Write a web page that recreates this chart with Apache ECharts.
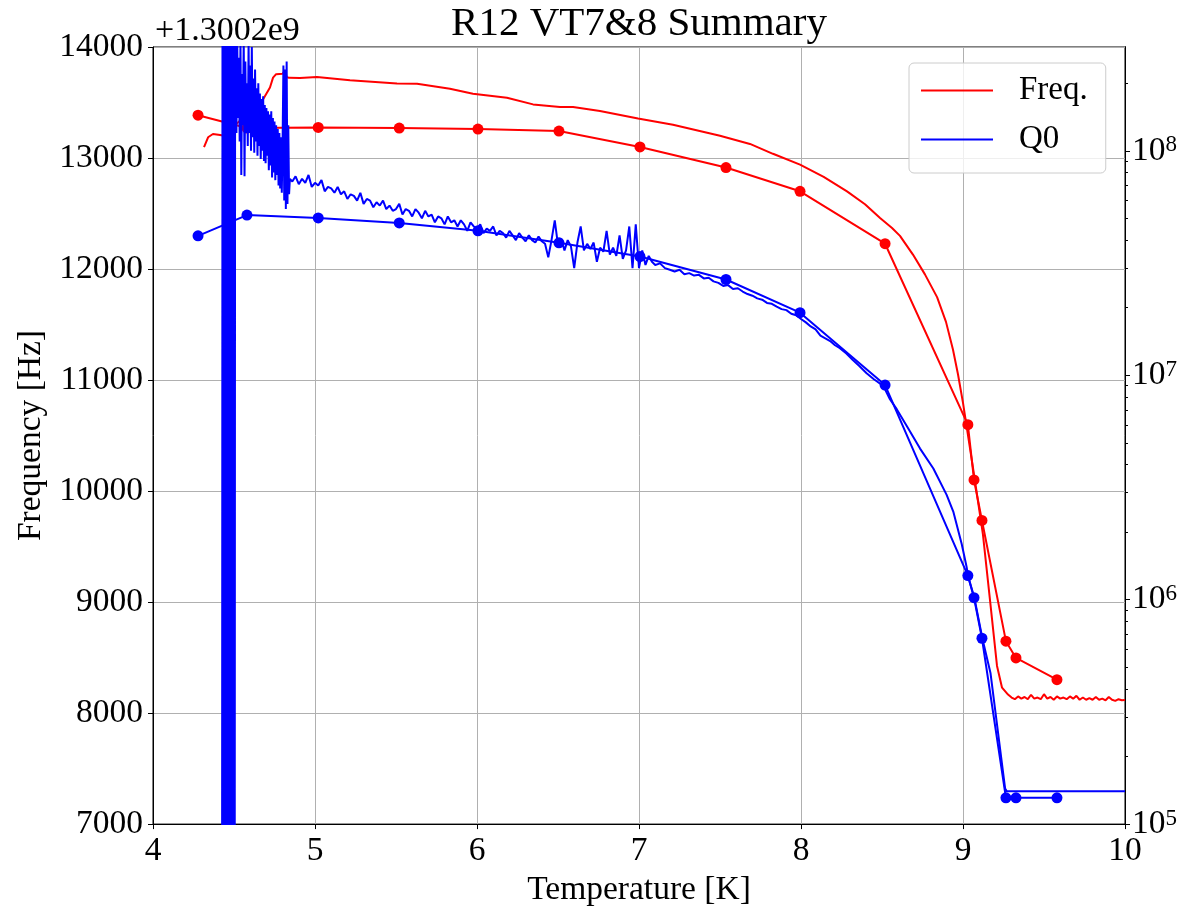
<!DOCTYPE html>
<html><head><meta charset="utf-8">
<script src="https://cdn.jsdelivr.net/npm/echarts@6/dist/echarts.min.js"></script>
<style>html,body{margin:0;padding:0;background:#fff;overflow:hidden}#c{width:1184px;height:912px}</style>
</head><body><div id="c"></div>
<script>
// ---------- DATA ----------
const titleText = 'R12 VT7&8 Summary';
const offsetText = '+1.3002e9';
const xTicks = [4, 5, 6, 7, 8, 9, 10];
const freqTicks = [7000, 8000, 9000, 10000, 11000, 12000, 13000, 14000];
const q0Range = [1e5, 2.9e8];
const q0MajorTicks = [1e5, 1e6, 1e7, 1e8];
const q0MinorTicks = [2e5,3e5,4e5,5e5,6e5,7e5,8e5,9e5,2e6,3e6,4e6,5e6,6e6,7e6,8e6,9e6,2e7,3e7,4e7,5e7,6e7,7e7,8e7,9e7,2e8];

// measured points (markers)
const tempPts = [4.278,4.58,5.02,5.52,6.006,6.506,7.006,7.537,7.994,8.519,9.03,9.068,9.117,9.265,9.327,9.58];
const freqPts = [13386,13270,13275,13270,13261,13243,13100,12914,12700,12228,10598,10100,9735,8648,8497,8301];
const q0Pts = [4.18e7,5.17e7,5.02e7,4.77e7,4.40e7,3.89e7,3.38e7,2.67e7,1.90e7,9.04e6,1.28e6,1.02e6,6.73e5,1.31e5,1.31e5,1.31e5];

// continuous frequency trace: [temperature K, frequency offset from 1.3002e9 Hz]
const freqTrace = [
  [4.315,13098],[4.34,13187],[4.37,13216],[4.414,13207],[4.44,13200],[4.48,13225],[4.512,13303],[4.56,13370],[4.599,13427],[4.64,13484],[4.679,13528],[4.722,13635],[4.741,13724],[4.76,13755],[4.80,13760],[4.815,13790],[4.825,13730],[4.84,13722],[4.907,13721],
  [5.012,13730],[5.216,13700],[5.506,13671],[5.63,13668],[5.833,13623],[5.975,13579],[6.185,13543],[6.346,13483],[6.512,13459],[6.593,13459],[6.759,13424],[6.994,13356],[7.21,13299],[7.5,13201],[7.685,13127],[7.827,13038],[7.994,12940],
  [8.14,12830],[8.284,12700],[8.395,12584],[8.488,12459],[8.562,12370],[8.611,12299],[8.691,12130],[8.765,11952],[8.84,11747],[8.895,11524],[8.938,11275],[8.969,11052],[9.0,10794],[9.062,10206],[9.123,9610],[9.167,9013],[9.21,8425],[9.241,8229],[9.278,8167],
  [9.30,8140],[9.32,8125],[9.34,8150],[9.36,8130],[9.38,8145],[9.40,8125],[9.42,8165],[9.44,8130],[9.46,8140],[9.48,8125],[9.50,8170],[9.52,8130],[9.54,8145],[9.56,8120],[9.58,8150],[9.60,8130],[9.62,8140],[9.64,8125],[9.66,8150],[9.68,8130],
  [9.70,8155],[9.72,8120],[9.74,8140],[9.76,8120],[9.78,8135],[9.80,8120],[9.82,8145],[9.84,8120],[9.86,8130],[9.88,8115],[9.90,8145],[9.92,8120],[9.94,8110],[9.96,8125],[9.98,8115],[10.0,8118]
];

// continuous Q0 trace: [temperature K, Q0]
const q0Trace = [
  [4.426,1e4],[4.429,5e8],[4.432,1e4],[4.435,5e8],[4.438,1e4],[4.441,5e8],[4.444,1e4],[4.447,5e8],[4.450,1e4],[4.453,5e8],[4.456,1e4],[4.459,5e8],[4.462,1e4],[4.465,5e8],
  [4.468,1e4],[4.471,5e8],[4.474,1e4],[4.477,5e8],[4.480,1e4],[4.483,5e8],[4.486,1e4],[4.489,5e8],[4.492,1e4],[4.495,5e8],[4.498,1e4],[4.501,5e8],[4.504,1e4],[4.507,5e8],
  [4.510,3.2e8],[4.515,1.2e8],[4.520,3.0e8],[4.525,1.4e8],[4.530,2.6e8],[4.535,1.1e8],[4.540,3.0e8],[4.545,7.8e7],[4.550,2.2e8],[4.555,1.3e8],[4.560,3.1e8],[4.565,7.7e7],
  [4.570,2.5e8],[4.575,1.2e8],[4.580,2.0e8],[4.585,1.05e8],[4.590,3.0e8],[4.595,1.2e8],[4.600,2.4e8],[4.605,1.0e8],[4.610,2.9e8],[4.615,1.15e8],[4.620,2.1e8],[4.625,9.8e7],
  [4.630,2.3e8],[4.635,1.1e8],[4.640,1.9e8],[4.645,9.5e7],[4.650,2.0e8],[4.655,1.05e8],[4.660,1.8e8],[4.665,9.2e7],[4.670,1.7e8],[4.675,1.0e8],[4.680,1.75e8],[4.685,9.0e7],
  [4.690,1.6e8],[4.695,8.8e7],[4.700,1.55e8],[4.705,9.5e7],[4.710,1.5e8],[4.715,8.2e7],[4.720,1.45e8],[4.725,8.6e7],[4.730,1.5e8],[4.735,7.6e7],[4.740,1.4e8],[4.745,8.0e7],
  [4.750,1.35e8],[4.755,7.4e7],[4.760,1.3e8],[4.765,7.8e7],[4.770,1.25e8],[4.775,7.0e7],[4.780,1.2e8],[4.785,6.8e7],[4.790,1.15e8],[4.795,6.5e7],[4.800,1.1e8],[4.805,2.4e8],
  [4.810,6.0e7],[4.815,2.3e8],[4.820,5.5e7],[4.825,2.5e8],[4.830,5.8e7],[4.835,1.3e8],[4.840,6.4e7],[4.845,7.5e7],
  [4.86,7.3e7],[4.88,7.7e7],[4.90,7.1e7],[4.92,7.5e7],[4.94,7.2e7],[4.96,7.8e7],[4.98,6.9e7],[5.00,7.2e7],[5.02,7.0e7],[5.04,7.4e7],[5.06,6.6e7],[5.08,6.9e7],[5.10,6.8e7],
  [5.12,6.5e7],[5.14,6.9e7],[5.16,6.4e7],[5.18,6.6e7],[5.20,6.1e7],[5.22,6.4e7],[5.24,6.3e7],[5.26,6.0e7],[5.28,6.5e7],[5.30,5.8e7],[5.32,6.1e7],[5.34,6.0e7],[5.36,5.6e7],
  [5.38,5.9e7],[5.40,5.7e7],[5.42,6.0e7],[5.44,5.5e7],[5.46,5.7e7],[5.48,5.4e7],[5.50,5.5e7],[5.52,5.8e7],[5.54,5.2e7],[5.56,5.5e7],[5.58,5.4e7],[5.60,5.1e7],[5.62,5.5e7],
  [5.64,5.3e7],[5.66,5.0e7],[5.68,5.4e7],[5.70,5.1e7],[5.72,5.2e7],[5.74,4.8e7],[5.76,5.1e7],[5.78,5.0e7],[5.80,4.7e7],[5.82,5.1e7],[5.84,4.8e7],[5.86,4.9e7],[5.88,4.6e7],
  [5.90,4.9e7],[5.92,4.7e7],[5.94,4.4e7],[5.96,4.8e7],[5.98,4.6e7],[6.00,4.5e7],[6.02,4.7e7],[6.04,4.3e7],[6.06,4.5e7],[6.08,4.4e7],[6.10,4.6e7],[6.12,4.2e7],[6.14,4.4e7],
  [6.16,4.3e7],[6.18,4.1e7],[6.20,4.4e7],[6.22,4.2e7],[6.24,4.0e7],[6.26,4.3e7],[6.28,4.1e7],[6.30,3.95e7],[6.32,4.2e7],[6.34,4.0e7],[6.36,3.9e7],[6.38,4.15e7],[6.40,3.95e7],
  [6.42,3.85e7],[6.44,3.35e7],[6.46,4.0e7],[6.48,4.9e7],[6.50,3.8e7],[6.52,4.05e7],[6.54,3.6e7],[6.56,4.0e7],[6.58,3.75e7],[6.60,3.0e7],[6.62,3.9e7],[6.64,4.6e7],[6.66,3.6e7],
  [6.68,3.85e7],[6.70,3.65e7],[6.72,3.9e7],[6.74,3.2e7],[6.76,3.7e7],[6.78,3.55e7],[6.80,4.4e7],[6.82,3.45e7],[6.84,3.7e7],[6.86,3.4e7],[6.88,4.2e7],[6.90,3.3e7],[6.92,3.6e7],
  [6.94,4.6e7],[6.96,3.0e7],[6.98,4.7e7],[7.00,3.0e7],[7.02,3.6e7],[7.04,3.1e7],[7.06,3.4e7],
  [7.08,3.2e7],[7.10,3.1e7],[7.13,3.15e7],[7.16,3.0e7],[7.19,2.95e7],[7.22,2.9e7],[7.25,2.95e7],[7.28,2.82e7],[7.31,2.85e7],[7.34,2.78e7],[7.37,2.8e7],[7.40,2.7e7],[7.43,2.72e7],
  [7.46,2.62e7],[7.49,2.58e7],[7.52,2.5e7],[7.55,2.52e7],[7.58,2.42e7],[7.61,2.44e7],[7.64,2.36e7],[7.67,2.3e7],[7.70,2.26e7],[7.73,2.2e7],[7.76,2.17e7],[7.79,2.1e7],[7.82,2.08e7],
  [7.85,2.02e7],[7.88,1.97e7],[7.91,1.95e7],[7.94,1.88e7],[7.97,1.85e7],[8.00,1.78e7],[8.03,1.72e7],[8.06,1.65e7],[8.09,1.6e7],[8.12,1.5e7],[8.15,1.46e7],[8.18,1.42e7],[8.21,1.36e7],
  [8.24,1.32e7],[8.28,1.25e7],[8.32,1.17e7],[8.36,1.1e7],[8.405,1.02e7],[8.45,9.6e6],[8.508,8.96e6],[8.549,7.82e6],[8.591,7.06e6],[8.652,5.96e6],[8.735,4.71e6],[8.817,3.84e6],
  [8.899,2.93e6],[8.94,2.47e6],[8.992,1.77e6],[9.023,1.39e6],[9.033,1.26e6],[9.07,1.02e6],[9.12,6.7e5],[9.17,4.7e5],[9.26,1.44e5],[9.27,1.40e5],[10.0,1.40e5]
];

// ---------- CHART ----------
const FONT = 'Liberation Serif';
const zip = (a, b) => a.map((v, i) => [v, b[i]]);
const lg = Math.log10;
const chart = echarts.init(document.getElementById('c'), null, {renderer: 'canvas'});
const axisLineStyle = {show: true, lineStyle: {color: '#000', width: 1}};
chart.setOption({
  animation: false,
  backgroundColor: '#fff',
  grid: {left: 153, right: 59, top: 47, bottom: 79, show: true, borderColor: '#000', borderWidth: 1, backgroundColor: 'transparent'},
  graphic: [
    {type: 'text', x: 639, y: 24, z: 100, style: {text: titleText, font: '41px "' + FONT + '"', fill: '#000', align: 'center', verticalAlign: 'middle'}},
    {type: 'text', x: 155, y: 31, z: 100, style: {text: offsetText, font: '34px "' + FONT + '"', fill: '#000', align: 'left', verticalAlign: 'middle'}}
  ],
  legend: {
    orient: 'vertical', left: 909, top: 63, data: ['Freq.', 'Q0'], icon: 'rect',
    itemWidth: 72, itemHeight: 2, itemGap: 16, padding: [11, 18, 17, 12],
    backgroundColor: 'rgba(255,255,255,0.8)', borderColor: '#cccccc', borderWidth: 1, borderRadius: 5,
    textStyle: {fontFamily: FONT, fontSize: 33, color: '#000', padding: [0, 0, 0, 21], lineHeight: 32}
  },
  xAxis: {
    type: 'value', min: xTicks[0], max: xTicks[xTicks.length - 1], interval: 1,
    name: 'Temperature [K]', nameLocation: 'middle', nameGap: 43,
    nameTextStyle: {fontFamily: FONT, fontSize: 33.5, color: '#000'},
    axisLine: axisLineStyle, axisTick: {show: true, inside: false, length: 5, lineStyle: {color: '#000'}},
    axisLabel: {fontFamily: FONT, fontSize: 33.5, color: '#000', margin: 10},
    splitLine: {show: true, lineStyle: {color: '#b0b0b0', width: 1}}
  },
  yAxis: [
    {
      type: 'value', position: 'left', min: freqTicks[0], max: freqTicks[freqTicks.length - 1], interval: 1000,
      name: 'Frequency [Hz]', nameLocation: 'middle', nameGap: 99,
      nameTextStyle: {fontFamily: FONT, fontSize: 33.5, color: '#000'},
      axisLine: axisLineStyle, axisTick: {show: true, inside: false, length: 5, lineStyle: {color: '#000'}},
      axisLabel: {fontFamily: FONT, fontSize: 33.5, color: '#000', margin: 10, formatter: v => String(v)},
      splitLine: {show: true, lineStyle: {color: '#b0b0b0', width: 1}}
    },
    {
      type: 'log', logBase: 10, position: 'right', min: q0Range[0], max: q0Range[1],
      axisLine: axisLineStyle,
      axisTick: {show: false},
      axisLabel: {
        customValues: q0MajorTicks, margin: 7, color: '#000',
        formatter: v => '{b|10}{s|' + Math.round(Math.log10(v)) + '}',
        rich: {b: {fontFamily: FONT, fontSize: 33.5, color: '#000'}, s: {fontFamily: FONT, fontSize: 23, color: '#000', verticalAlign: 'top'}}
      },
      splitLine: {show: false}
    },
    {
      type: 'value', position: 'right', min: lg(q0Range[0]), max: lg(q0Range[1]),
      axisLine: {show: true, lineStyle: {color: '#000', width: 1}},
      axisTick: {show: true, inside: false, length: 5, lineStyle: {color: '#000'}, customValues: q0MajorTicks.map(lg)},
      axisLabel: {show: false}, splitLine: {show: false}
    },
    {
      type: 'value', position: 'right', min: lg(q0Range[0]), max: lg(q0Range[1]),
      axisLine: {show: true, lineStyle: {color: '#000', width: 1}},
      axisTick: {show: true, inside: false, length: 3, lineStyle: {color: '#000'}, customValues: q0MinorTicks.map(lg)},
      axisLabel: {show: false}, splitLine: {show: false}
    }
  ],
  series: [
    {name: 'Freq.', type: 'line', yAxisIndex: 0, data: freqTrace, showSymbol: false, clip: true, z: 2,
     lineStyle: {color: '#ff0000', width: 2}, itemStyle: {color: '#ff0000'}},
    {name: 'Freq. pts', type: 'line', yAxisIndex: 0, data: zip(tempPts, freqPts), symbol: 'circle', symbolSize: 11, clip: true, z: 2,
     lineStyle: {color: '#ff0000', width: 2}, itemStyle: {color: '#ff0000'}},
    {name: 'Q0', type: 'line', yAxisIndex: 1, data: q0Trace, showSymbol: false, clip: true, z: 4,
     lineStyle: {color: '#0000ff', width: 2}, itemStyle: {color: '#0000ff'}},
    {name: 'Q0 pts', type: 'line', yAxisIndex: 1, data: zip(tempPts, q0Pts), symbol: 'circle', symbolSize: 11, clip: true, z: 4,
     lineStyle: {color: '#0000ff', width: 2}, itemStyle: {color: '#0000ff'}}
  ]
});
</script></body></html>
